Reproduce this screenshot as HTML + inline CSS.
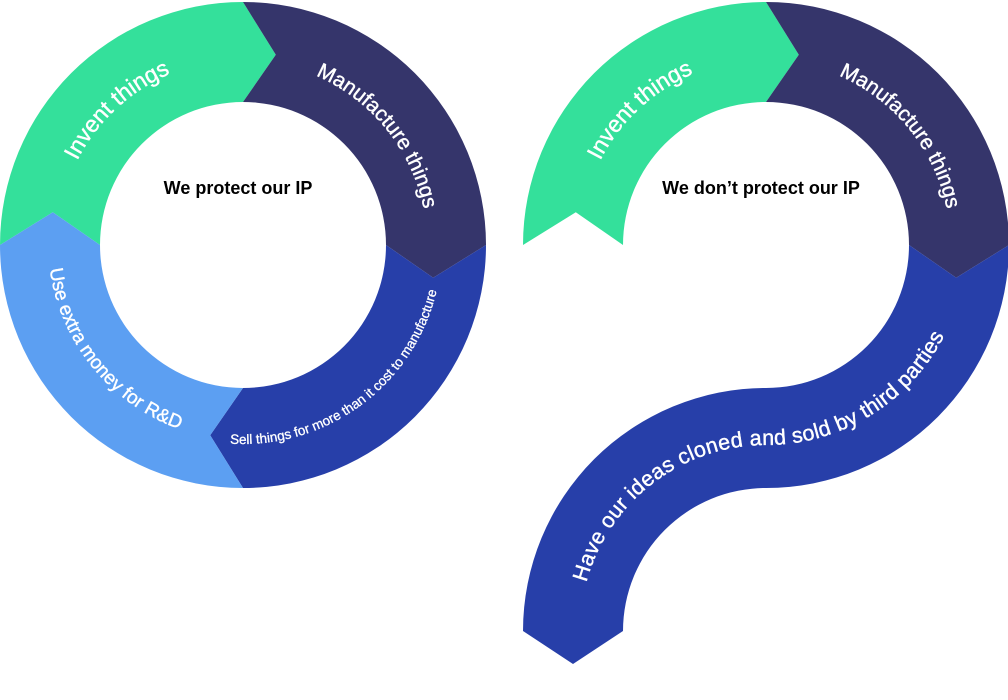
<!DOCTYPE html>
<html><head><meta charset="utf-8"><style>
html,body{margin:0;padding:0;background:#fff;width:1008px;height:700px;overflow:hidden}
svg{display:block}
text{font-family:"Liberation Sans",sans-serif;fill:#fff}
.c{fill:#000;font-weight:bold;font-size:18px}
</style></head><body>
<svg width="1008" height="700" viewBox="0 0 1008 700" xmlns="http://www.w3.org/2000/svg">
<defs>
<path id="l1" d="M107,371.9 A186 186 0 0 1 379,118.1"/>
<path id="l2" d="M125.9,100.5 A186 186 0 0 1 360.1,389.5"/>
<path id="l3" d="M83,363.4 A199 199 0 0 0 403,126.6"/>
<path id="l4" d="M117.8,90.4 A199 199 0 0 0 368.2,399.6"/>
<path id="r1" d="M630,371.9 A186 186 0 0 1 902,118.1"/>
<path id="r2" d="M648.9,100.5 A186 186 0 0 1 883.1,389.5"/>
<path id="r3" d="M580,631 A186 186 0 0 1 766,445 A200 200 0 0 0 966,245"/>
</defs>
<path fill="#34e09b" d="M0,245 A243 243 0 0 1 243,2 L275.8,54.8 L243,102 A143 143 0 0 0 100,245 L52.8,212.2 Z"/>
<path fill="#35356b" d="M243,2 A243 243 0 0 1 486,245 L433.2,277.8 L386,245 A143 143 0 0 0 243,102 L275.8,54.8 Z"/>
<path fill="#273fa9" d="M486,245 A243 243 0 0 1 243,488 L210.2,435.2 L243,388 A143 143 0 0 0 386,245 L433.2,277.8 Z"/>
<path fill="#5c9ff2" d="M243,488 A243 243 0 0 1 0,245 L52.8,212.2 L100,245 A143 143 0 0 0 243,388 L210.2,435.2 Z"/>
<text font-size="23" stroke="#fff" stroke-width="0.4"><textPath href="#l1" startOffset="50%" text-anchor="middle">Invent things</textPath></text>
<text font-size="21" stroke="#fff" stroke-width="0.4"><textPath href="#l2" startOffset="50%" text-anchor="middle">Manufacture things</textPath></text>
<text font-size="13.5" stroke="#fff" stroke-width="0.3"><textPath href="#l3" startOffset="50%" text-anchor="middle">Sell things for more than it cost to manufacture</textPath></text>
<text font-size="19" stroke="#fff" stroke-width="0.4"><textPath href="#l4" startOffset="50%" text-anchor="middle">Use extra money for R&amp;D</textPath></text>
<text class="c" x="238" y="194" text-anchor="middle">We protect our IP</text>
<path fill="#34e09b" d="M523,245 A243 243 0 0 1 766,2 L798.8,54.8 L766,102 A143 143 0 0 0 623,245 L575.8,212.2 Z"/>
<path fill="#35356b" d="M766,2 A243 243 0 0 1 1009,245 L956.2,277.8 L909,245 A143 143 0 0 0 766,102 L798.8,54.8 Z"/>
<path fill="#273fa9" d="M1009,245 A243 243 0 0 1 766,488 A143 143 0 0 0 623,631 L573,664 L523,631 A243 243 0 0 1 766,388 A143 143 0 0 0 909,245 L956.2,277.8 Z"/>
<text font-size="23" stroke="#fff" stroke-width="0.4"><textPath href="#r1" startOffset="50%" text-anchor="middle">Invent things</textPath></text>
<text font-size="21" stroke="#fff" stroke-width="0.4"><textPath href="#r2" startOffset="50%" text-anchor="middle">Manufacture things</textPath></text>
<text font-size="21.5" stroke="#fff" stroke-width="0.4"><textPath href="#r3" startOffset="49" textLength="463" lengthAdjust="spacing">Have our ideas cloned and sold by third parties</textPath></text>
<text class="c" x="761" y="194" text-anchor="middle">We don’t protect our IP</text>
</svg>
</body></html>
